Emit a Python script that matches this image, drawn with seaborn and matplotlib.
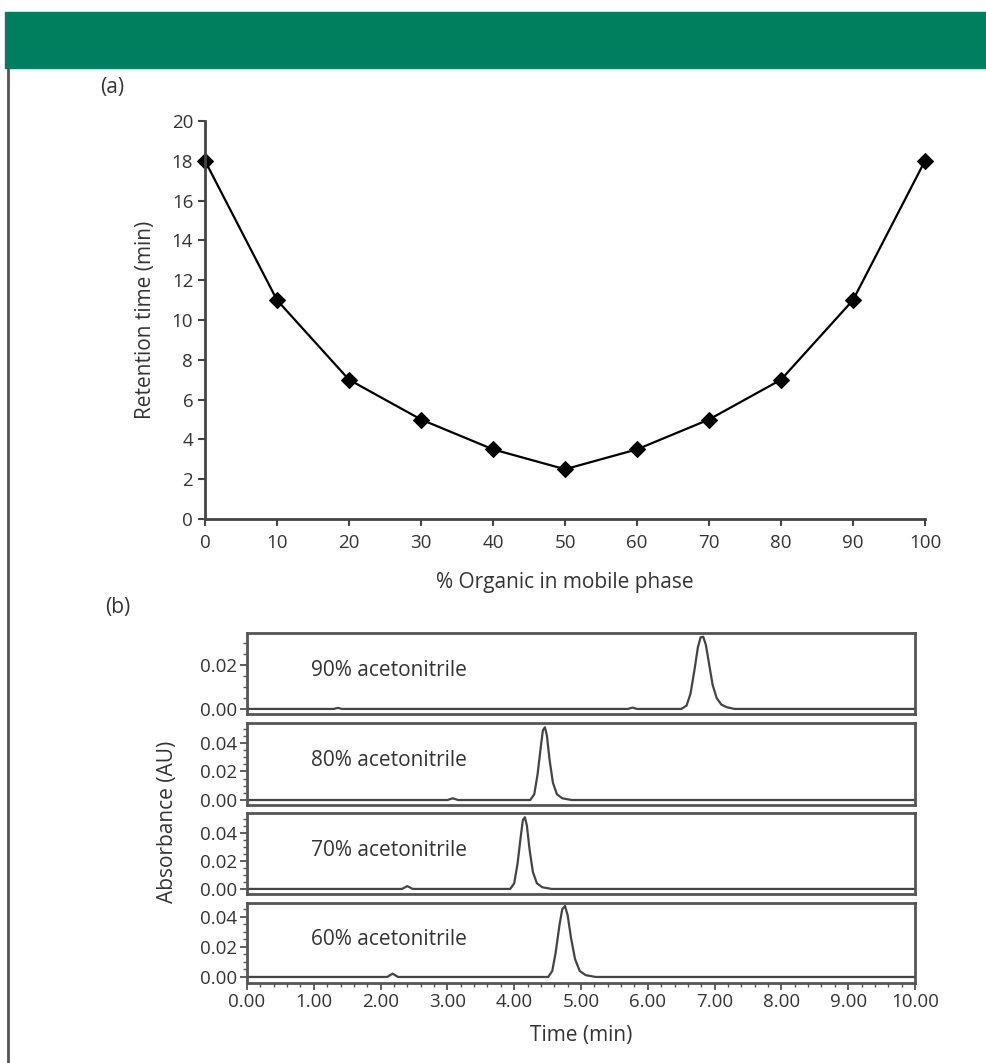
import numpy as np
import pandas as pd
import matplotlib
matplotlib.use("Agg")
import matplotlib.pyplot as plt
from matplotlib.patches import Rectangle
from matplotlib.lines import Line2D
from matplotlib.ticker import MultipleLocator, FormatStrFormatter
import seaborn as sns

sns.set_theme(style="white")
plt.rcParams["font.family"] = ["Open Sans", "DejaVu Sans"]
plt.rcParams["text.color"] = "#333333"
plt.rcParams["axes.labelcolor"] = "#333333"
plt.rcParams["xtick.color"] = "#333333"
plt.rcParams["ytick.color"] = "#333333"

# (a) retention time vs % organic
organic_pct = [0, 10, 20, 30, 40, 50, 60, 70, 80, 90, 100]
retention_min = [18, 11, 7, 5, 3.5, 2.5, 3.5, 5, 7, 11, 18]

# (b) chromatogram traces
labels_b = ["90% acetonitrile", "80% acetonitrile", "70% acetonitrile", "60% acetonitrile"]
t90 = [0, 1.30, 1.36, 1.42, 5.70, 5.77, 5.84, 6.50, 6.58, 6.64, 6.70, 6.75, 6.79, 6.83, 6.87,
       6.92, 6.97, 7.03, 7.10, 7.18, 7.30, 10]
a90 = [0, 0, 0.0005, 0, 0, 0.0006, 0, 0, 0.0015, 0.007, 0.018, 0.028, 0.0325, 0.0328, 0.029,
       0.020, 0.011, 0.005, 0.002, 0.0008, 0, 0]
t80 = [0, 3.00, 3.08, 3.16, 4.24, 4.30, 4.35, 4.40, 4.43, 4.46, 4.49, 4.53, 4.58, 4.64, 4.72, 4.86, 10]
a80 = [0, 0, 0.0012, 0, 0, 0.004, 0.018, 0.038, 0.049, 0.051, 0.045, 0.028, 0.012, 0.004, 0.0012, 0, 0]
t70 = [0, 2.32, 2.40, 2.48, 3.94, 4.00, 4.05, 4.10, 4.13, 4.16, 4.19, 4.23, 4.28, 4.34, 4.42, 4.56, 10]
a70 = [0, 0, 0.002, 0, 0, 0.004, 0.018, 0.038, 0.049, 0.051, 0.045, 0.028, 0.012, 0.004, 0.0012, 0, 0]
t60 = [0, 2.10, 2.18, 2.26, 4.51, 4.57, 4.62, 4.68, 4.72, 4.76, 4.80, 4.85, 4.91, 4.98, 5.07, 5.22, 10]
a60 = [0, 0, 0.0022, 0, 0, 0.004, 0.016, 0.035, 0.045, 0.047, 0.041, 0.026, 0.012, 0.004, 0.0012, 0, 0]
traces_t = [t90, t80, t70, t60]
traces_a = [a90, a80, a70, a60]
y_limits = [(-0.0023, 0.0345), (-0.0035, 0.054), (-0.0036, 0.054), (-0.004, 0.049)]
y_ticks = [[0.0, 0.02], [0.0, 0.02, 0.04], [0.0, 0.02, 0.04], [0.0, 0.02, 0.04]]

LABEL_FS = 15
TICK_FS = 13.5

fig = plt.figure(figsize=(9.87, 10.63), dpi=100)

# green banner and left rule
fig.patches.append(Rectangle((5 / 987, 1 - 68 / 1063), 982 / 987, 56 / 1063,
                             transform=fig.transFigure, color="#007f5f", zorder=0))
fig.lines.append(Line2D([8 / 987, 8 / 987], [0, 1 - 68 / 1063], transform=fig.transFigure,
                        color="#555555", lw=2))

# panel (a)
ax = fig.add_axes([205 / 987, 1 - 519 / 1063, 720 / 987, 398 / 1063])
df_a = pd.DataFrame({"organic": organic_pct, "rt": retention_min})
sns.lineplot(data=df_a, x="organic", y="rt", ax=ax, color="black", lw=1.6,
             marker="D", markersize=8, markeredgecolor="black", estimator=None)
for ln in ax.lines:
    ln.set_clip_on(False)
ax.set_xlim(0, 100)
ax.set_ylim(0, 20)
ax.set_xticks(range(0, 101, 10))
ax.set_yticks(range(0, 21, 2))
for s in ["top", "right"]:
    ax.spines[s].set_visible(False)
for s in ["left", "bottom"]:
    ax.spines[s].set_color("#444444")
    ax.spines[s].set_linewidth(2)
ax.tick_params(axis="both", which="major", labelsize=TICK_FS, length=5, width=1.5,
               direction="out", color="#444444", bottom=True, left=True)
ax.tick_params(axis="x", pad=6)
ax.set_xlabel("% Organic in mobile phase", fontsize=LABEL_FS, labelpad=14)
ax.set_ylabel("Retention time (min)", fontsize=LABEL_FS, labelpad=11)
fig.text(100 / 987, 1 - 88 / 1063, "(a)", fontsize=LABEL_FS, va="center", ha="left")

# panel (b)
boxes = [(633, 714), (723, 805), (813, 894), (903, 983)]
for i, (top, bot) in enumerate(boxes):
    axb = fig.add_axes([247 / 987, 1 - bot / 1063, 668 / 987, (bot - top) / 1063])
    df_b = pd.DataFrame({"t": traces_t[i], "a": traces_a[i]})
    sns.lineplot(data=df_b, x="t", y="a", ax=axb, color="#444444", lw=1.6, estimator=None)
    axb.set_xlim(0, 10)
    axb.set_ylim(*y_limits[i])
    axb.set_yticks(y_ticks[i])
    axb.yaxis.set_major_formatter(FormatStrFormatter("%.2f"))
    axb.yaxis.set_minor_locator(MultipleLocator(0.005))
    for s in axb.spines.values():
        s.set_color("#555555")
        s.set_linewidth(2)
    axb.tick_params(axis="y", which="major", labelsize=TICK_FS, length=5, width=1.2,
                    direction="out", color="#444444", left=True, pad=2)
    axb.tick_params(axis="y", which="minor", length=3, width=1, color="#555555", left=True)
    axb.set_xlabel("")
    axb.set_ylabel("")
    axb.text(0.096, 0.54, labels_b[i], transform=axb.transAxes, fontsize=LABEL_FS,
             va="center", ha="left")
    if i < 3:
        axb.set_xticks([])
    else:
        axb.set_xticks(np.arange(0, 10.01, 1))
        axb.xaxis.set_major_formatter(FormatStrFormatter("%.2f"))
        axb.xaxis.set_minor_locator(MultipleLocator(0.2))
        axb.tick_params(axis="x", which="major", labelsize=TICK_FS, length=5, width=1.2,
                        direction="out", color="#444444", bottom=True, pad=2)
        axb.tick_params(axis="x", which="minor", length=3, width=1, color="#555555", bottom=True)
        axb.set_xlabel("Time (min)", fontsize=LABEL_FS, labelpad=10)

fig.text(105 / 987, 1 - 607 / 1063, "(b)", fontsize=LABEL_FS, va="center", ha="left")
fig.text(168 / 987, 1 - 822 / 1063, "Absorbance (AU)", fontsize=LABEL_FS, rotation=90,
         va="center", ha="center")

fig.savefig("out.png", dpi=100)
